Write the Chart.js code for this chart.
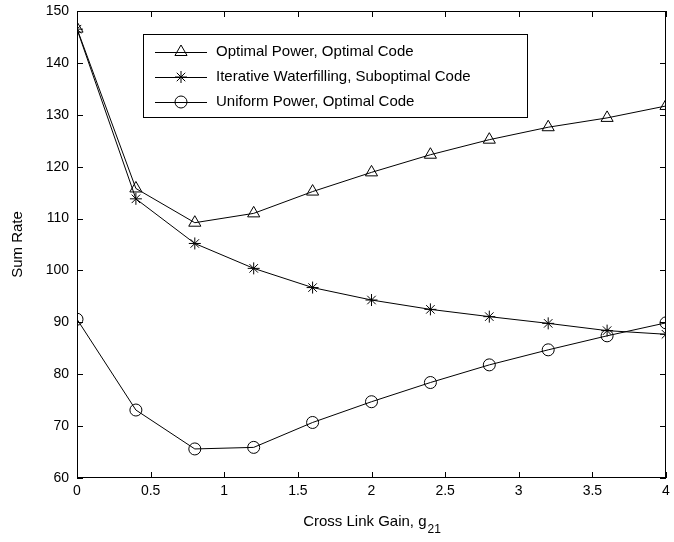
<!DOCTYPE html>
<html>
<head>
<meta charset="utf-8">
<script src="https://cdn.jsdelivr.net/npm/chart.js@4/dist/chart.umd.min.js"></script>
<style>
  html, body { margin: 0; padding: 0; background: #fff; }
  #wrap { width: 674px; height: 542px; }
</style>
</head>
<body>
<div id="wrap"><canvas id="chart"></canvas></div>
<script>
const gains = [0, 0.4, 0.8, 1.2, 1.6, 2.0, 2.4, 2.8, 3.2, 3.6, 4.0];
const optimalPower = [146.6, 115.8, 109.2, 111.0, 115.2, 118.9, 122.3, 125.2, 127.6, 129.4, 131.7];
const iterativeWF = [146.5, 113.8, 105.2, 100.4, 96.7, 94.3, 92.5, 91.1, 89.8, 88.4, 87.7];
const uniformPower = [90.6, 73.1, 65.6, 65.9, 70.7, 74.7, 78.4, 81.8, 84.7, 87.4, 89.9];
const seriesNames = [
  'Optimal Power, Optimal Code',
  'Iterative Waterfilling, Suboptimal Code',
  'Uniform Power, Optimal Code'
];

const FONT = 'Liberation Sans, Arial, sans-serif';

function series(label, values, style, radius) {
  return {
    label,
    data: gains.map((g, i) => ({x: g, y: values[i]})),
    borderColor: '#000',
    borderWidth: 1,
    backgroundColor: 'rgba(0,0,0,0)',
    pointStyle: style,
    pointRadius: radius,
    pointBorderColor: '#000',
    pointBorderWidth: 1,
    pointBackgroundColor: 'rgba(0,0,0,0)',
    tension: 0,
  };
}

// matlab style box, inward ticks, legend and x title with subscript
const matlabFrame = {
  id: 'matlabFrame',
  afterDraw(chart) {
    const {ctx, chartArea: a, scales: {x, y}} = chart;
    ctx.save();
    ctx.strokeStyle = '#000';
    ctx.lineWidth = 1;
    ctx.strokeRect(a.left + 0.5, a.top + 0.5, a.right - a.left - 1, a.bottom - a.top - 1);
    ctx.beginPath();
    x.ticks.forEach(t => {
      const px = Math.round(x.getPixelForValue(t.value)) + 0.5;
      ctx.moveTo(px, a.bottom); ctx.lineTo(px, a.bottom - 6);
      ctx.moveTo(px, a.top); ctx.lineTo(px, a.top + 6);
    });
    y.ticks.forEach(t => {
      const py = Math.round(y.getPixelForValue(t.value)) + 0.5;
      ctx.moveTo(a.left, py); ctx.lineTo(a.left + 6, py);
      ctx.moveTo(a.right, py); ctx.lineTo(a.right - 6, py);
    });
    ctx.stroke();

    // legend
    const lx = 143, ly = 34, lw = 384, lh = 83;
    ctx.fillStyle = '#fff';
    ctx.fillRect(lx, ly, lw, lh);
    ctx.strokeRect(lx + 0.5, ly + 0.5, lw, lh);
    ctx.font = '15px ' + FONT;
    ctx.textBaseline = 'middle';
    ctx.textAlign = 'left';
    chart.data.datasets.forEach((ds, i) => {
      const cy = 52 + i * 25;
      ctx.beginPath();
      ctx.moveTo(155, cy + 0.5); ctx.lineTo(207, cy + 0.5);
      ctx.stroke();
      ctx.fillStyle = 'rgba(0,0,0,0)';
      Chart.helpers.drawPoint(ctx, {
        pointStyle: ds.pointStyle, radius: ds.pointRadius, borderWidth: 1
      }, 181, cy);
      ctx.fillStyle = '#000';
      ctx.fillText(ds.label, 216, cy);
    });

    // x title
    const main = 'Cross Link Gain, g';
    ctx.font = '15px ' + FONT;
    const w1 = ctx.measureText(main).width;
    ctx.font = '12px ' + FONT;
    const w2 = ctx.measureText('21').width;
    const cx = (a.left + a.right) / 2;
    const sx = cx - (w1 + w2) / 2;
    ctx.font = '15px ' + FONT;
    ctx.fillText(main, sx, 522);
    ctx.font = '12px ' + FONT;
    ctx.fillText('21', sx + w1 + 1, 530);
    ctx.restore();
  }
};

new Chart(document.getElementById('chart'), {
  type: 'line',
  data: {
    datasets: [
      series(seriesNames[0], optimalPower, 'triangle', 7),
      series(seriesNames[1], iterativeWF, 'star', 6),
      series(seriesNames[2], uniformPower, 'circle', 6),
    ]
  },
  options: {
    responsive: true,
    maintainAspectRatio: false,
    animation: false,
    layout: {padding: {top: 11, right: 3, left: 0, bottom: 0}},
    plugins: {legend: {display: false}, tooltip: {enabled: false}},
    scales: {
      x: {
        type: 'linear',
        min: 0, max: 4,
        ticks: {stepSize: 0.5, color: '#000', font: {size: 14, family: FONT}, padding: 5, maxRotation: 0,
          callback: v => String(v)},
        grid: {display: false, drawTicks: false},
        border: {display: false},
        afterFit: s => { s.height = 64; s.paddingLeft = 0; s.paddingRight = 0; }
      },
      y: {
        min: 60, max: 150,
        ticks: {stepSize: 10, color: '#000', font: {size: 14, family: FONT}, padding: 8},
        grid: {display: false, drawTicks: false},
        border: {display: false},
        title: {display: true, text: 'Sum Rate', color: '#000', font: {size: 15, family: FONT}, padding: {top: 9}},
        afterFit: s => { s.width = 77; s.paddingTop = 0; s.paddingBottom = 0; }
      }
    }
  },
  plugins: [matlabFrame]
});
</script>
</body>
</html>
